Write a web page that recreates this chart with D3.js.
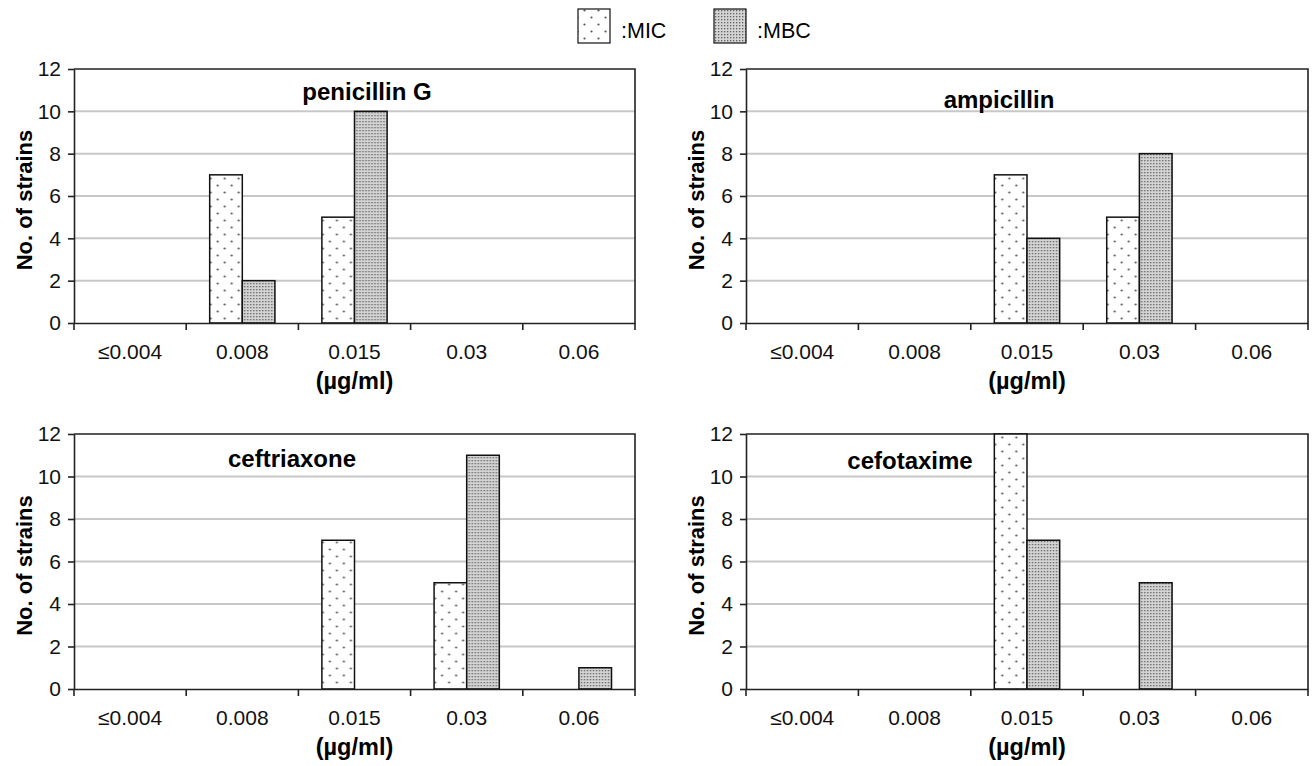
<!DOCTYPE html>
<html>
<head>
<meta charset="utf-8">
<script src="https://cdn.jsdelivr.net/npm/d3@7"></script>
<style>
  body { margin: 0; background: #fff; }
  svg { font-family: "Liberation Sans", Arial, Helvetica, sans-serif; }
  .grid line { stroke: #c8c8c8; stroke-width: 2; }
  .axis path, .axis line { stroke: #222; stroke-width: 1.6; }
  .axis text { font-size: 21px; fill: #111; font-family: "Liberation Sans", Arial, sans-serif; }
</style>
</head>
<body>
<svg id="chart" width="1312" height="766"></svg>
<script>
"use strict";

// категории (концентрации)
const categories = ["\u22640.004", "0.008", "0.015", "0.03", "0.06"];
const yTicks = [0, 2, 4, 6, 8, 10, 12];
const series = ["MIC", "MBC"];

// значения по препаратам
const drugs = ["penicillin G", "ampicillin", "ceftriaxone", "cefotaxime"];
const micValues = [
    [0, 7, 5, 0, 0],
    [0, 0, 7, 5, 0],
    [0, 0, 7, 5, 0],
    [0, 0, 12, 0, 0]
];
const mbcValues = [
    [0, 2, 10, 0, 0],
    [0, 0, 4, 8, 0],
    [0, 0, 0, 11, 1],
    [0, 0, 7, 5, 0]
];

// расположение панелей (tx, ty - название препарата)
const panels = [
    {x0: 74, x1: 635, y0: 69, y1: 323, tx: 367, ty: 100},
    {x0: 746, x1: 1308, y0: 69, y1: 323, tx: 999, ty: 108},
    {x0: 74, x1: 635, y0: 434, y1: 689, tx: 292, ty: 467},
    {x0: 746, x1: 1308, y0: 434, y1: 689, tx: 910, ty: 469}
];

const svg = d3.select("#chart");

// узоры заливки
const defs = svg.append("defs");
const pMic = defs.append("pattern")
    .attr("id", "pat-mic").attr("patternUnits", "userSpaceOnUse")
    .attr("width", 14).attr("height", 14);
pMic.append("rect").attr("width", 14).attr("height", 14).attr("fill", "#fff");
pMic.append("circle").attr("cx", 3.5).attr("cy", 3.5).attr("r", 1.1).attr("fill", "#555");
pMic.append("circle").attr("cx", 10.5).attr("cy", 10.5).attr("r", 1.1).attr("fill", "#555");

const pMbc = defs.append("pattern")
    .attr("id", "pat-mbc").attr("patternUnits", "userSpaceOnUse")
    .attr("width", 3).attr("height", 3);
pMbc.append("rect").attr("width", 3).attr("height", 3).attr("fill", "#d4d4d4");
pMbc.append("rect").attr("x", 1).attr("y", 1).attr("width", 1.3).attr("height", 1.3).attr("fill", "#606060");

const fills = {MIC: "url(#pat-mic)", MBC: "url(#pat-mbc)"};

drugs.forEach((drug, i) => {
    const p = panels[i];
    const x = d3.scaleBand().domain(categories).range([p.x0, p.x1]);
    const xs = d3.scaleBand().domain(series).range([0, x.bandwidth()]).paddingOuter(0.72).paddingInner(0);
    const y = d3.scaleLinear().domain([0, 12]).range([p.y1, p.y0]);
    const g = svg.append("g");

    // сетка
    g.append("g").attr("class", "grid")
        .selectAll("line").data(yTicks.filter(t => t > 0 && t < 12)).join("line")
        .attr("x1", p.x0).attr("x2", p.x1)
        .attr("y1", d => y(d)).attr("y2", d => y(d));

    // рамка сверху и справа
    g.append("path")
        .attr("d", `M${p.x0},${y(12)}H${p.x1}V${p.y1}`)
        .attr("fill", "none").attr("stroke", "#222").attr("stroke-width", 1.6);

    // столбики
    const rows = categories.map((c, k) => ({c, MIC: micValues[i][k], MBC: mbcValues[i][k]}));
    g.append("g").selectAll("g").data(rows).join("g")
        .attr("transform", d => `translate(${x(d.c)},0)`)
        .selectAll("rect")
        .data(d => series.map(s => ({s, v: d[s]})).filter(e => e.v > 0))
        .join("rect")
        .attr("x", d => xs(d.s))
        .attr("width", xs.bandwidth())
        .attr("y", d => y(d.v))
        .attr("height", d => y(0) - y(d.v))
        .attr("fill", d => fills[d.s])
        .attr("stroke", "#111").attr("stroke-width", 1.5);

    // оси
    g.append("g").attr("class", "axis")
        .attr("transform", `translate(${p.x0},0)`)
        .call(d3.axisLeft(y).tickValues(yTicks).tickSize(6).tickPadding(7).tickSizeOuter(0));
    const xAxis = g.append("g").attr("class", "axis")
        .attr("transform", `translate(0,${p.y1})`)
        .call(d3.axisBottom(x).tickSize(0).tickPadding(21).tickSizeOuter(0));
    // засечки между категориями
    xAxis.selectAll(".sep").data(d3.range(categories.length + 1)).join("line")
        .attr("class", "sep")
        .attr("x1", k => p.x0 + k * x.step()).attr("x2", k => p.x0 + k * x.step())
        .attr("y1", 0).attr("y2", 7);

    // подписи осей
    g.append("text")
        .attr("transform", `translate(${p.x0 - 42},${(p.y0 + p.y1) / 2 + 4}) rotate(-90)`)
        .attr("text-anchor", "middle")
        .attr("font-size", 22).attr("font-weight", "bold")
        .text("No. of strains");
    g.append("text")
        .attr("x", (p.x0 + p.x1) / 2).attr("y", p.y1 + 66)
        .attr("text-anchor", "middle")
        .attr("font-size", 23.5).attr("font-weight", "bold")
        .text("(\u00b5g/ml)");

    // название препарата
    g.append("text")
        .attr("x", p.tx).attr("y", p.ty)
        .attr("text-anchor", "middle")
        .attr("font-size", 24).attr("font-weight", "bold")
        .text(drug);
});

// легенда
const legend = svg.append("g");
const legendX = [578, 714];
series.forEach((s, k) => {
    legend.append("rect")
        .attr("x", legendX[k]).attr("y", 9).attr("width", 32).attr("height", 34)
        .attr("fill", fills[s]).attr("stroke", "#111").attr("stroke-width", 1.2);
    legend.append("text")
        .attr("x", legendX[k] + 43).attr("y", 38)
        .attr("font-size", 21.5)
        .text(":" + s);
});
</script>
</body>
</html>
